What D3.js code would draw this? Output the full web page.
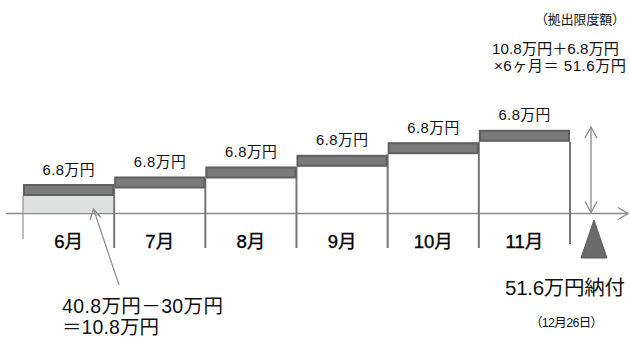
<!DOCTYPE html>
<html>
<head>
<meta charset="utf-8">
<script src="https://cdn.jsdelivr.net/npm/d3@7"></script>
<style>
  html, body { margin: 0; padding: 0; background: #fff; }
  svg { display: block; }
  text { font-family: "Liberation Sans", "Noto Sans CJK JP", sans-serif; fill: #111; }
</style>
</head>
<body>
<svg id="chart" width="629" height="337"></svg>
<script>
// ---- data ----
const months = ["6月", "7月", "8月", "9月", "10月", "11月"];
const monthlyAmounts = [6.8, 6.8, 6.8, 6.8, 6.8, 6.8];   // 万円 per month
const amountLabels = ["6.8万円", "6.8万円", "6.8万円", "6.8万円", "6.8万円", "6.8万円"];
// visual height of each step (schematic)
const stepLevels = [29.5, 37, 47, 58.7, 71.3, 83.7];
const totalLevel = 86.5;
const headerLines = ["（拠出限度額）", "10.8万円＋6.8万円", "×6ヶ月＝ 51.6万円"];
const noteLines = ["40.8万円－30万円", "＝10.8万円"];
const payLabel = "51.6万円納付";
const payDate = "（12月26日）";

// ---- scales ----
const svg = d3.select("#chart");
const x = d3.scaleBand().domain(months).range([23, 570]).paddingInner(0).paddingOuter(0);
const y = d3.scaleLinear().domain([0, 100]).range([213.5, 113.5]);
const barH = 12;

const gray = "#8a8a8a";

// light fill under first bar (initial 10.8万円)
svg.append("rect")
  .attr("x", x(months[0]))
  .attr("y", y(stepLevels[0]) + barH)
  .attr("width", x.bandwidth())
  .attr("height", y(0) - 1.5 - (y(stepLevels[0]) + barH))
  .attr("fill", "#dfe0e0");

// axis line with arrow
svg.append("line")
  .attr("x1", 6).attr("x2", 628).attr("y1", y(0)).attr("y2", y(0))
  .attr("stroke", gray).attr("stroke-width", 1.5);
svg.append("path")
  .attr("d", `M618,${y(0) - 6} L628,${y(0)} L618,${y(0) + 6}`)
  .attr("fill", "none").attr("stroke", gray).attr("stroke-width", 1.3);

// vertical dividers
const bounds = months.map(m => x(m)).concat([x(months[months.length - 1]) + x.bandwidth()]);
bounds.forEach((bx, i) => {
  let topY, botY;
  if (i === 0) { topY = y(stepLevels[0]) + barH; botY = 239; }
  else if (i === bounds.length - 1) { topY = y(stepLevels[i - 1]) + barH; botY = 244; }
  else { topY = y(stepLevels[i]) + barH; botY = 248; }
  svg.append("line")
    .attr("x1", bx).attr("x2", bx).attr("y1", topY).attr("y2", botY)
    .attr("stroke", i === 0 ? "#999" : "#777").attr("stroke-width", i === 0 ? 1.3 : 2);
});

// step bars
svg.selectAll("rect.step").data(months).join("rect")
  .attr("class", "step")
  .attr("x", d => x(d) + 1)
  .attr("y", (d, i) => y(stepLevels[i]) + 1)
  .attr("width", x.bandwidth() - 2)
  .attr("height", barH - 2)
  .attr("fill", "#7a7a7a")
  .attr("stroke", "#5f5f5f")
  .attr("stroke-width", 2);

// amount labels
svg.selectAll("text.amt").data(months).join("text")
  .attr("class", "amt")
  .attr("x", d => x(d) + x.bandwidth() / 2)
  .attr("y", (d, i) => y(stepLevels[i]) - 9.5)
  .attr("text-anchor", "middle")
  .attr("font-size", 14.8)
  .attr("textLength", 52).attr("lengthAdjust", "spacing")
  .text((d, i) => amountLabels[i]);

// month labels
svg.selectAll("text.month").data(months).join("text")
  .attr("class", "month")
  .attr("x", d => x(d) + x.bandwidth() / 2)
  .attr("y", 247.5)
  .attr("text-anchor", "middle")
  .attr("font-size", 18.5)
  .style("fill", "#000")
  .style("stroke", "#000").style("stroke-width", 0.35)
  .text(d => d);

// double arrow (total)
const ax = 591;
svg.append("line")
  .attr("x1", ax).attr("x2", ax).attr("y1", y(totalLevel)).attr("y2", y(0) - 1)
  .attr("stroke", gray).attr("stroke-width", 1.3);
svg.append("path")
  .attr("d", `M${ax - 6},${y(totalLevel) + 11} L${ax},${y(totalLevel)} L${ax + 6},${y(totalLevel) + 11}`)
  .attr("fill", "none").attr("stroke", gray).attr("stroke-width", 1.3);
svg.append("path")
  .attr("d", `M${ax - 6},${y(0) - 12} L${ax},${y(0) - 1} L${ax + 6},${y(0) - 12}`)
  .attr("fill", "none").attr("stroke", gray).attr("stroke-width", 1.3);

// payment triangle
svg.append("path")
  .attr("d", "M594,220 L607,258 L581,258 Z")
  .attr("fill", "#6b6b6b").attr("stroke", "#5a5a5a").attr("stroke-width", 1);

// leader from note to first fill
svg.append("line")
  .attr("x1", 119).attr("x2", 93.5).attr("y1", 285).attr("y2", 209)
  .attr("stroke", gray).attr("stroke-width", 1.2);
svg.append("path")
  .attr("d", "M90,220 L93.5,209 L101,217.5")
  .attr("fill", "none").attr("stroke", gray).attr("stroke-width", 1.2);

// header text
svg.append("text").attr("x", 535).attr("y", 24)
  .attr("font-size", 12.8).attr("textLength", 90).attr("lengthAdjust", "spacingAndGlyphs")
  .text(headerLines[0]);
svg.append("text").attr("x", 492).attr("y", 53.5)
  .attr("font-size", 15.2).attr("textLength", 127).attr("lengthAdjust", "spacing")
  .text(headerLines[1]);
svg.append("text").attr("x", 494).attr("y", 71)
  .attr("font-size", 15.2).attr("textLength", 132).attr("lengthAdjust", "spacing")
  .text(headerLines[2]);

// note text
svg.append("text").attr("x", 62).attr("y", 312.5).attr("font-size", 19.5)
  .attr("textLength", 161).attr("lengthAdjust", "spacing").text(noteLines[0]);
svg.append("text").attr("x", 62).attr("y", 334).attr("font-size", 19.5)
  .attr("textLength", 97).attr("lengthAdjust", "spacing").text(noteLines[1]);

// payment text
svg.append("text").attr("x", 505).attr("y", 295)
  .attr("font-size", 20.5).attr("textLength", 120).attr("lengthAdjust", "spacing").text(payLabel);
svg.append("text").attr("x", 530).attr("y", 327)
  .attr("font-size", 12.5).attr("textLength", 73).attr("lengthAdjust", "spacing").text(payDate);
</script>
</body>
</html>
